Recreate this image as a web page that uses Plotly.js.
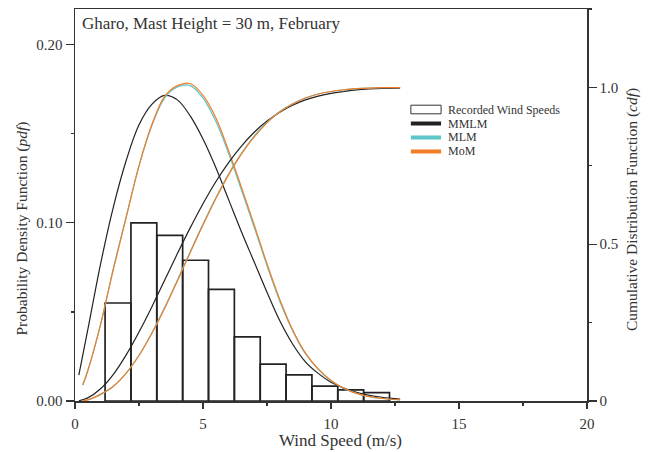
<!DOCTYPE html>
<html>
<head>
<meta charset="utf-8">
<script src="https://cdn.plot.ly/plotly-3.0.1.min.js"></script>
<style>html,body{margin:0;padding:0;background:#fff;}#chart{width:657px;height:452px;}</style>
</head>
<body>
<div id="chart"></div>
<script>
// Histogram of recorded wind speeds (bin centres, m/s) and pdf heights
const binCenters = [1.68, 2.69, 3.70, 4.71, 5.72, 6.73, 7.74, 8.75, 9.76, 10.77, 11.78];
const recordedPdf = [0.055, 0.100, 0.093, 0.079, 0.0626, 0.036, 0.0207, 0.0147, 0.0084, 0.0062, 0.0047];

// Wind speed samples for the fitted curves
const speedMMLM = [0.15, 0.5, 1, 1.5, 2, 2.5, 3, 3.5, 4, 4.5, 5, 5.5, 6, 6.5, 7, 7.5, 8, 8.5, 9, 9.5, 10, 10.5, 11, 11.5, 12, 12.7];
const speedFit  = [0.3, 0.5, 1, 1.5, 2, 2.5, 3, 3.5, 4, 4.5, 5, 5.5, 6, 6.5, 7, 7.5, 8, 8.5, 9, 9.5, 10, 10.5, 11, 11.5, 12, 12.7];

// pdf curves
const pdfMMLM = [0.0145, 0.040, 0.077, 0.109, 0.135, 0.155, 0.1665, 0.1715, 0.169, 0.160, 0.147, 0.131, 0.113, 0.095, 0.078, 0.061, 0.045, 0.032, 0.022, 0.0155, 0.0105, 0.0072, 0.0048, 0.0032, 0.0021, 0.0010];
const pdfMLM  = [0.009, 0.017, 0.043, 0.0745, 0.1035, 0.132, 0.1545, 0.170, 0.1762, 0.1770, 0.170, 0.157, 0.139, 0.1185, 0.0975, 0.076, 0.056, 0.0395, 0.0265, 0.0178, 0.0114, 0.0071, 0.0043, 0.0025, 0.0014, 0.0006];
const pdfMoM  = [0.009, 0.017, 0.043, 0.074, 0.103, 0.132, 0.155, 0.171, 0.177, 0.1782, 0.1715, 0.159, 0.1405, 0.120, 0.099, 0.077, 0.057, 0.040, 0.027, 0.018, 0.0115, 0.0072, 0.0043, 0.0025, 0.0014, 0.0006];

// cdf curves
const cdfMMLM = [0.0009, 0.0099, 0.039, 0.085, 0.147, 0.220, 0.300, 0.385, 0.470, 0.552, 0.629, 0.699, 0.760, 0.813, 0.857, 0.893, 0.921, 0.943, 0.960, 0.972, 0.981, 0.987, 0.992, 0.995, 0.997, 0.998];
const cdfMLM  = [0.001, 0.0035, 0.020, 0.047, 0.089, 0.146, 0.217, 0.298, 0.386, 0.476, 0.564, 0.648, 0.724, 0.790, 0.845, 0.889, 0.923, 0.948, 0.966, 0.979, 0.987, 0.9925, 0.996, 0.998, 0.999, 0.9995];
const cdfMoM  = [0.001, 0.0035, 0.022, 0.047, 0.089, 0.145, 0.215, 0.295, 0.383, 0.473, 0.561, 0.645, 0.721, 0.787, 0.842, 0.887, 0.922, 0.947, 0.966, 0.979, 0.987, 0.9925, 0.996, 0.998, 0.999, 0.9995];

const seriesNames = ['Recorded Wind Speeds', 'MMLM', 'MLM', 'MoM'];
const xTicks = [0, 5, 10, 15, 20];
const yTicks = [0, 0.1, 0.2];
const y2Ticks = [0, 0.5, 1.0];
const y2TickText = ['0', '0.5', '1.0'];

const cBlack = '#222222', cCyan = '#5cc6c8', cOrange = '#f07d28';
const FONT = 'Liberation Serif, Times New Roman, serif';
const TXT = '#333333';

const line = (x, y, color, name, axis) => ({
  type: 'scatter', mode: 'lines', x: x, y: y, name: name, yaxis: axis,
  line: {color: color, width: 1.2, shape: 'spline', smoothing: 1},
  showlegend: false, hoverinfo: 'skip'
});

const traces = [
  {type: 'bar', x: binCenters, y: recordedPdf, width: 1.01, name: seriesNames[0],
   marker: {color: 'rgba(255,255,255,0)', line: {color: cBlack, width: 1.7}}, showlegend: false},
  line(speedMMLM, cdfMMLM, cBlack, seriesNames[1], 'y2'),
  line(speedFit, cdfMLM, cCyan, seriesNames[2], 'y2'),
  line(speedFit, cdfMoM, cOrange, seriesNames[3], 'y2'),
  line(speedMMLM, pdfMMLM, cBlack, seriesNames[1], 'y'),
  line(speedFit, pdfMLM, cCyan, seriesNames[2], 'y'),
  line(speedFit, pdfMoM, cOrange, seriesNames[3], 'y')
];

// manual legend (paper coordinates)
const legX0 = 0.656, legX1 = 0.715, legTX = 0.724;
const legRows = [0.7436, 0.7079, 0.6722, 0.6365];
const legColors = [null, cBlack, cCyan, cOrange];
const shapes = [];
const annotations = [];
legRows.forEach((yy, i) => {
  if (i === 0) {
    shapes.push({type: 'rect', xref: 'paper', yref: 'paper', x0: legX0, x1: legX1, y0: yy - 0.011, y1: yy + 0.011,
      line: {color: '#333', width: 1}, fillcolor: '#fff'});
  } else {
    shapes.push({type: 'line', xref: 'paper', yref: 'paper', x0: legX0, x1: legX1, y0: yy, y1: yy,
      line: {color: legColors[i], width: 4}});
  }
  annotations.push({xref: 'paper', yref: 'paper', x: legTX, y: yy, xanchor: 'left', yanchor: 'middle',
    text: seriesNames[i], showarrow: false, font: {family: FONT, size: 12, color: TXT}});
});

// axis titles as annotations (positioned like the reference)
annotations.push({xref: 'paper', yref: 'paper', x: 0.5176, y: -0.102, xanchor: 'center', yanchor: 'middle',
  text: 'Wind Speed (m/s)', showarrow: false, font: {family: FONT, size: 17, color: TXT}});
annotations.push({xref: 'paper', yref: 'paper', x: -0.1035, y: 0.44, xanchor: 'center', yanchor: 'middle', textangle: -90,
  text: 'Probability Density Function (<i>pdf</i>)', showarrow: false, font: {family: FONT, size: 15.5, color: TXT}});
annotations.push({xref: 'paper', yref: 'paper', x: 1.0879, y: 0.487, xanchor: 'center', yanchor: 'middle', textangle: -90,
  text: 'Cumulative Distribution Function (<i>cdf</i>)', showarrow: false, font: {family: FONT, size: 15.5, color: TXT}});

const axisCommon = {
  showgrid: false, zeroline: false, showline: true, linecolor: '#333', linewidth: 1.5,
  ticks: 'outside', tickcolor: '#333', tickwidth: 1.3,
  tickfont: {family: FONT, size: 15, color: TXT}
};

const layout = {
  width: 657, height: 452,
  margin: {l: 75, r: 70, t: 9, b: 51},
  paper_bgcolor: '#fff', plot_bgcolor: '#fff',
  font: {family: FONT, color: TXT},
  showlegend: false,
  title: {text: 'Gharo, Mast Height = 30 m, February', font: {family: FONT, size: 17, color: TXT},
    xref: 'paper', x: 0.0137, xanchor: 'left', yref: 'container', y: 1 - 23/452, yanchor: 'middle'},
  xaxis: Object.assign({}, axisCommon, {
    range: [0, 20], tickvals: xTicks, ticklen: 6, mirror: true, ticklabelstandoff: 2, automargin: false,
    minor: {dtick: 2.5, tick0: 0, ticks: 'outside', ticklen: 3, tickcolor: '#333', tickwidth: 1.2}
  }),
  yaxis: Object.assign({}, axisCommon, {
    range: [0, 0.22], tickvals: yTicks, tickformat: '.2f', ticklen: 8, automargin: false,
    minor: {dtick: 0.05, tick0: 0, ticks: 'outside', ticklen: 3, tickcolor: '#333', tickwidth: 1.2}
  }),
  yaxis2: Object.assign({}, axisCommon, {
    overlaying: 'y', side: 'right', anchor: 'x', automargin: false,
    range: [0, 1.25], tickvals: y2Ticks, ticktext: y2TickText, ticklen: 8,
    minor: {dtick: 0.25, tick0: 0, ticks: 'outside', ticklen: 3, tickcolor: '#333', tickwidth: 1.2}
  }),
  shapes: shapes,
  annotations: annotations
};

Plotly.newPlot('chart', traces, layout, {staticPlot: true, displayModeBar: false});
</script>
</body>
</html>
